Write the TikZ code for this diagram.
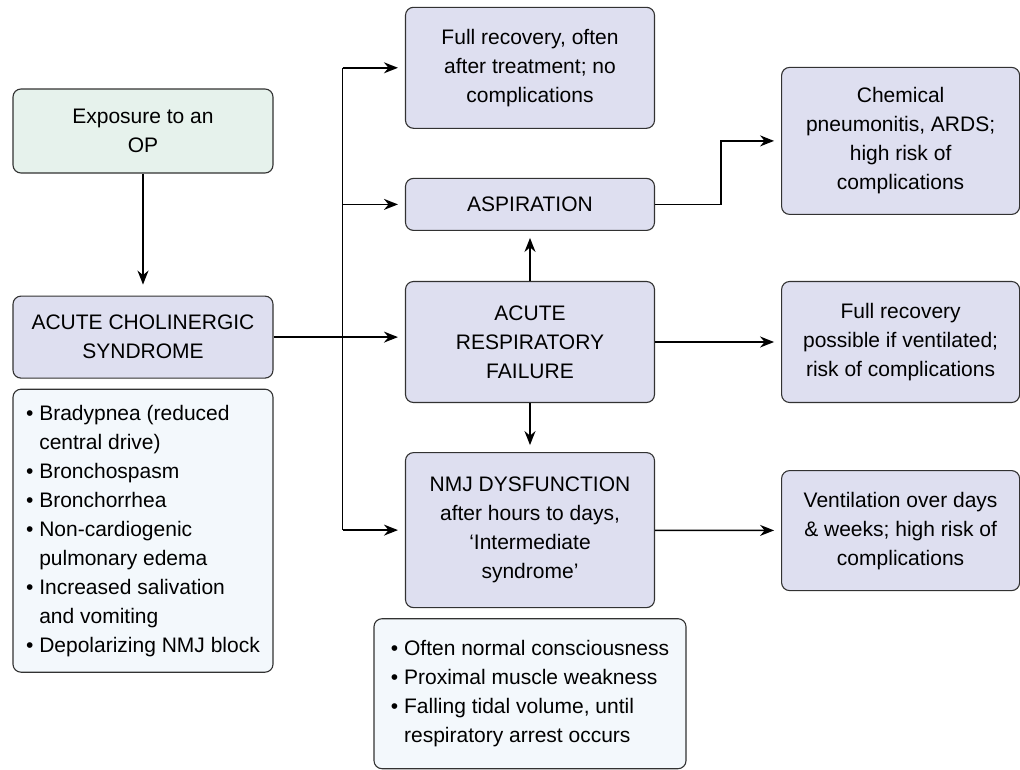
\documentclass[tikz,border=0pt]{standalone}
\usepackage{fontspec}
\setmainfont{Liberation Sans}
\definecolor{boxblue}{RGB}{222,223,240}
\definecolor{boxgreen}{RGB}{230,242,236}
\definecolor{listblue}{RGB}{243,248,252}
\definecolor{edgegray}{RGB}{50,50,50}
\usetikzlibrary{positioning, calc, arrows.meta}
\newcommand{\bul}{\textbullet\ }
\newcommand{\hang}{\hphantom{\textbullet\ }}

\begin{document}
\begin{tikzpicture}[
        x=1pt, y=-1pt,
        box/.style={rectangle, draw=edgegray, line width=1.1pt, fill=boxblue, inner sep=4pt, align=center, rounded corners=8pt, font=\fontsize{21}{29}\selectfont},
        listbox/.style={box, fill=listblue, align=left},
        arrow/.style={-{Stealth[length=14pt, width=11pt]}, line width=1.5pt, shorten >=7pt},
        line/.style={line width=1.5pt}
    ]
        \useasboundingbox (0,0) rectangle (1020,769);

        % Left column
        \node[box, fill=boxgreen, minimum width=260pt, minimum height=84pt] (EXP) at (143,131) {Exposure to an\\OP};
        \node[box, minimum width=260pt, minimum height=82pt, below=122pt of EXP] (ACS) {ACUTE CHOLINERGIC\\SYNDROME};
        \node[listbox, minimum width=260pt, minimum height=283pt, below=10pt of ACS] (ACSsigns) {\bul Bradypnea (reduced\\\hang central drive)\\\bul Bronchospasm\\\bul Bronchorrhea\\\bul Non-cardiogenic\\\hang pulmonary edema\\\bul Increased salivation\\\hang and vomiting\\\bul Depolarizing NMJ block};

        % Middle column
        \node[box, minimum width=249pt, minimum height=121pt] (ARF) at (530,342) {ACUTE\\RESPIRATORY\\FAILURE};
        \node[box, minimum width=249pt, minimum height=52pt, above=50pt of ARF] (ASP) {ASPIRATION};
        \node[box, minimum width=249pt, minimum height=121pt, above=49pt of ASP] (FULL) {Full recovery, often\\after treatment; no\\complications};
        \node[box, minimum width=249pt, minimum height=155pt, below=49pt of ARF] (NMJ) {NMJ DYSFUNCTION\\after hours to days,\\‘Intermediate\\syndrome’};
        \node[listbox, minimum width=312pt, minimum height=150pt, below=10pt of NMJ] (NMJsigns) {\bul Often normal consciousness\\\bul Proximal muscle weakness\\\bul Falling tidal volume, until\\\hang respiratory arrest occurs};

        % Right column
        \node[box, minimum width=238pt, minimum height=121pt, right=126pt of ARF] (VENT) {Full recovery\\possible if ventilated;\\risk of complications};
        \node[box, minimum width=238pt, minimum height=147pt, above=66pt of VENT] (CHEM) {Chemical\\pneumonitis, ARDS;\\high risk of\\complications};
        \node[box, minimum width=238pt, minimum height=120pt, below=67pt of VENT] (LONG) {Ventilation over days\\\& weeks; high risk of\\complications};

        % Arrows
        \coordinate (split) at ($(ACS.east)+(69,0)$);
        \draw[arrow, shorten >=11pt] (EXP) -- (ACS);
        \draw[arrow] (ACS.east) -- (ACS.east -| ARF.west);
        \draw[line] (split |- FULL) -- (split |- NMJ);
        \draw[arrow] (split |- FULL) -- (FULL.west);
        \draw[arrow] (split |- ASP) -- (ASP.west);
        \draw[arrow] (split |- NMJ) -- (NMJ.west);
        \draw[arrow] (ARF) -- (ASP);
        \draw[arrow] (ARF) -- (NMJ);
        \draw[arrow] (ASP.east) -- ++(66,0) |- (CHEM.west);
        \draw[arrow] (ARF) -- (VENT);
        \draw[arrow] (NMJ) -- (LONG);
    \end{tikzpicture}
\end{document}
